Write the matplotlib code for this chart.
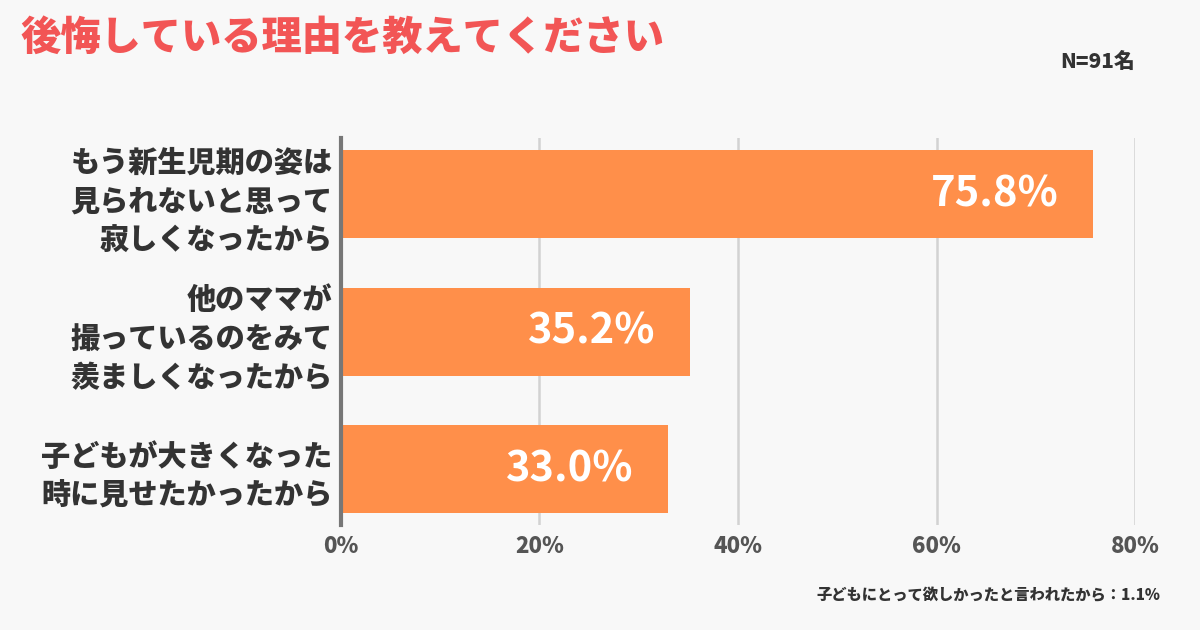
import matplotlib.pyplot as plt

plt.rcParams['font.family'] = ['Noto Sans CJK JP', 'DejaVu Sans']

# data
categories = [
    'もう新生児期の姿は\n見られないと思って\n寂しくなったから',
    '他のママが\n撮っているのをみて\n羨ましくなったから',
    '子どもが大きくなった\n時に見せたかったから',
]
values = [75.8, 35.2, 33.0]
x_ticks = [0, 20, 40, 60, 80]
x_tick_labels = ['0%', '20%', '40%', '60%', '80%']
title = '後悔している理由を教えてください'
n_label = 'N=91名'
footnote = '子どもにとって欲しかったと言われたから：1.1%'

bg = '#f8f8f8'
bar_color = '#ff8f4a'

fig = plt.figure(figsize=(12, 6.3), dpi=100, facecolor=bg)
ax = fig.add_axes([0.284, 0.1667, 0.662, 0.614])
ax.set_facecolor(bg)

pos = list(range(len(categories)))
ax.barh(pos, values, height=0.64, color=bar_color, zorder=3)

for p, v in zip(pos, values):
    ax.text(v - 3.5, p, f'{v:.1f}%', ha='right', va='center',
            color='white', fontsize=30, fontweight='bold', zorder=4)

ax.set_xlim(0, 80)
ax.set_ylim(2.407, -0.407)
ax.set_xticks(x_ticks)
ax.set_xticklabels(x_tick_labels, fontsize=16, fontweight=900, color='#555555')
ax.set_yticks(pos)
ax.set_yticklabels(categories, fontsize=21, fontweight=900, color='#333333',
                   linespacing=1.4)
ax.tick_params(axis='both', length=0)
ax.tick_params(axis='x', pad=7)
ax.tick_params(axis='y', pad=6)

ax.grid(axis='x', color='#d2d2d2', linewidth=1.8, zorder=0)
for s in ['top', 'right', 'bottom']:
    ax.spines[s].set_visible(False)
ax.spines['left'].set_color('#777777')
ax.spines['left'].set_linewidth(3)
ax.spines['left'].set_zorder(5)

fig.text(20 / 1200, 1 - 38 / 630, title, ha='left', va='center',
         fontsize=29, fontweight=900, color='#f25555')
fig.text(1135 / 1200, 1 - 62 / 630, n_label, ha='right', va='center',
         fontsize=15, fontweight=900, color='#333333')
fig.text(1160 / 1200, 1 - 596 / 630, footnote, ha='right', va='center',
         fontsize=11, fontweight=900, color='#333333')

fig.savefig('out.png', dpi=100, facecolor=bg)
